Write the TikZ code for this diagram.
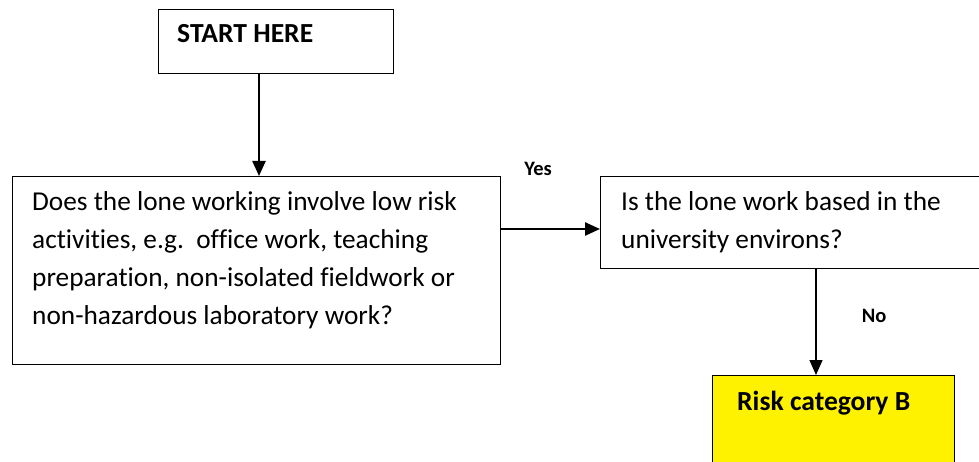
\documentclass[tikz,border=0pt]{standalone}
\usepackage{fontspec}
\setmainfont{Carlito}[Ligatures=NoCommon]
\usetikzlibrary{arrows.meta}
\begin{document}
\begin{tikzpicture}[x=1pt,y=-1pt,
  box/.style={draw=black, line width=1.3pt, inner sep=0pt, anchor=north west},
  txt/.style={anchor=base west, inner sep=0pt, align=left, font=\fontsize{27.3}{38}\selectfont},
  btxt/.style={anchor=base west, inner sep=0pt, font=\fontsize{27.6}{32}\selectfont\bfseries},
  lbl/.style={inner sep=0pt, font=\fontsize{20.5}{24}\selectfont\bfseries},
  conn/.style={line width=2.4pt, -{Triangle[length=15pt,width=13pt]}},
  connthin/.style={line width=1.4pt, -{Triangle[length=15pt,width=13pt]}}]
\useasboundingbox (0,0) rectangle (979,462);
\clip (0,0) rectangle (979,462);
\fill[white] (0,0) rectangle (979,462);
% boxes
\node[box, minimum width=235pt, minimum height=64pt] (start) at (158,9) {};
\node[box, minimum width=488pt, minimum height=188pt] (q1) at (12,176) {};
\node[box, minimum width=390pt, minimum height=92pt] (q2) at (600,176) {};
\node[box, fill=yellow, minimum width=242pt, minimum height=110pt] (rb) at (712,375) {};
% texts (base anchor = baseline of the last line)
\node[btxt] (tstart) at (177,43) {START HERE};
\node[txt] (tq1) at (32,324) {Does the lone working involve low risk\\activities, e.g.\ \ office work, teaching\\preparation, non-isolated fieldwork or\\non-hazardous laboratory work?};
\node[txt] (tq2) at (621,248) {Is the lone work based in the\\university environs?};
\node[btxt] (trb) at (737,410) {Risk category B};
% labels
\node[lbl] (yes) at (538,169) {Yes};
\node[lbl] (no) at (874,316) {No};
% connectors
\coordinate (xa) at (259,0);
\coordinate (ya) at (0,229);
\coordinate (xb) at (816,0);
\draw[conn] (start.south -| xa) -- (q1.north -| xa);
\draw[conn] (q1.east |- ya) -- (q2.west |- ya);
\draw[connthin] (q2.south -| xb) -- (rb.north -| xb);
\end{tikzpicture}
\end{document}
